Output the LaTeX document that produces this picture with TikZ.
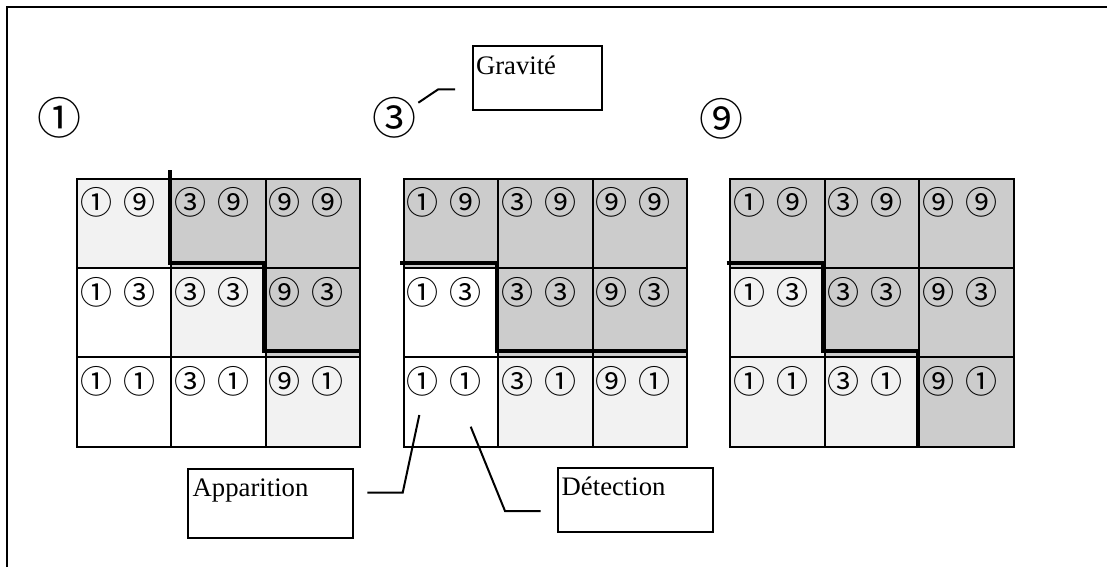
\documentclass[tikz,border=0pt]{standalone}
\usepackage{fontspec}
\setmainfont{Liberation Serif}
\newfontfamily\symfont{Noto Sans CJK JP}
\usetikzlibrary{calc}
\definecolor{lightcell}{HTML}{F2F2F2}
\definecolor{darkcell}{HTML}{CCCCCC}
\begin{document}
\begin{tikzpicture}[x=1pt,y=-1pt,
  cell/.style={draw=black, line width=2pt, minimum width=94.4pt, minimum height=89.3pt, inner sep=0pt, anchor=north west},
  sym/.style={font=\symfont\fontsize{32}{32}\selectfont, inner sep=0pt},
  head/.style={font=\symfont\fontsize{44}{44}\selectfont, inner sep=0pt},
  bound/.style={line width=4pt, line join=miter},
  conn/.style={line width=2pt},
  labelbox/.style={draw=black, line width=2pt, anchor=north west, inner ysep=0pt, align=left, font=\fontsize{26.7}{30}\selectfont},
  frame/.style={line width=1.7pt}
]
\useasboundingbox (0,0) rectangle (1107,567);
\draw[frame] (7.3,567) -- (7.3,7.3) -- (1107,7.3);

% grids
\foreach \g/\gx/\fills in {
  A/76/{lightcell,darkcell,darkcell,white,lightcell,darkcell,white,white,lightcell},
  B/402.7/{darkcell,darkcell,darkcell,white,darkcell,darkcell,white,lightcell,lightcell},
  C/729.3/{darkcell,darkcell,darkcell,lightcell,darkcell,darkcell,lightcell,lightcell,darkcell}} {
  \foreach \f [count=\i from 0] in \fills {
    \pgfmathtruncatemacro\r{\i/3}
    \pgfmathtruncatemacro\c{mod(\i,3)}
    \node[cell, fill=\f] (\g\r\c) at (\gx+94.4*\c, 177.7+89.3*\r) {};
    \node[sym] (\g\r\c a) at ($(\g\r\c.north west)+(20,25)$) {\ifcase\c ①\or ③\or ⑨\fi};
    \node[sym] (\g\r\c b) at ($(\g\r\c.north west)+(63,25)$) {\ifcase\r ⑨\or ③\or ①\fi};
  }
}

% thick boundaries
\draw[bound] (170,170) -- (170,262.5) -- (263.8,262.5) -- (263.8,351) -- (360.7,351);
\draw[bound] (400,262.5) -- (496.8,262.5) -- (496.8,351) -- (688,351);
\draw[bound] (726.7,262.5) -- (822.7,262.5) -- (822.7,351) -- (918,351) -- (918,445.7);

% headers
\node[head] (h1) at (59,118) {①};
\node[head] (h3) at (394,118) {③};
\node[head] (h9) at (721.7,118.3) {⑨};

% label boxes
\node[labelbox, text width=122.4pt, inner xsep=3.3pt, text height=28.3pt, text depth=36pt] (grav) at (471.7,45) {Gravité};
\node[labelbox, text width=155.6pt, inner xsep=4.4pt, text height=27.3pt, text depth=42.3pt] (appar) at (187.3,467.7) {Apparition};
\node[labelbox, text width=147.6pt, inner xsep=3.4pt, text height=27.6pt, text depth=36.7pt] (detect) at (557.3,466.7) {Détection};

% connectors
\coordinate (g0) at (418.3,102.7);
\coordinate (g1) at (438.3,89.3);
\coordinate (g2) at (455,89.3);
\draw[conn] (g0) -- (g1) -- (g2);
\coordinate (a0) at (419.3,415);
\coordinate (a1) at (402.7,492.7);
\coordinate (a2) at (367.3,492.7);
\draw[conn] (a0) -- (a1) -- (a2);
\coordinate (d0) at (470.7,426.7);
\coordinate (d1) at (505,511);
\coordinate (d2) at (540.7,511);
\draw[conn] (d0) -- (d1) -- (d2);
\end{tikzpicture}
\end{document}
